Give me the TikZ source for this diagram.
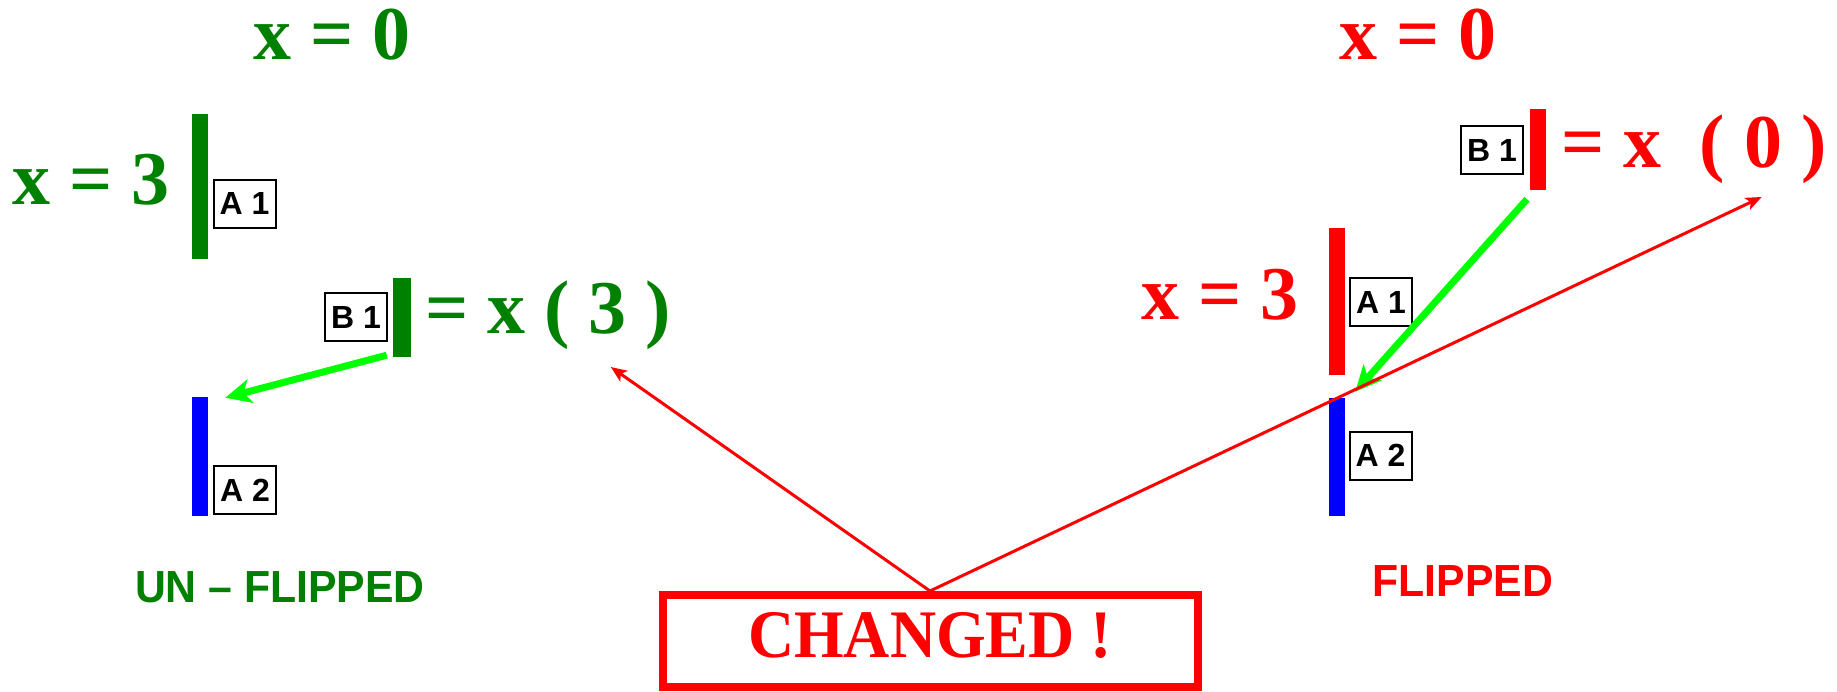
\documentclass[tikz,border=0pt]{standalone}
\usepackage{fontspec}
\setmainfont{Liberation Serif}
\setsansfont{Liberation Sans}
\newfontfamily\capfont[FakeStretch=0.95]{Liberation Sans}
\newfontfamily\chgfont[FakeStretch=0.94]{Liberation Serif}
\usetikzlibrary{arrows.meta}
\definecolor{dgreen}{RGB}{0,128,0}
\definecolor{lgreen}{RGB}{0,255,0}
\begin{document}
\begin{tikzpicture}[x=1pt,y=-1pt,
  big/.style={font=\fontsize{76}{76}\selectfont\bfseries, inner sep=0pt, anchor=base},
  lab/.style={draw=black, line width=2pt, font=\sffamily\bfseries\fontsize{32}{32}\selectfont, minimum width=62pt, minimum height=48pt, inner sep=0pt},
  bar/.style={inner sep=0pt, minimum width=16pt, draw=none},
  captext/.style={font=\capfont\bfseries\fontsize{45}{45}\selectfont, inner sep=0pt, anchor=base},
  garrow/.style={draw=lgreen, line width=7pt, -{Stealth[length=26pt,width=24pt,inset=7pt]}},
  rarrow/.style={draw=red, line width=3pt, -{Stealth[length=16pt,width=13pt,inset=4pt]}}]
\useasboundingbox (0,0) rectangle (1837,691);
% left (un-flipped)
\node[big, text=dgreen] (gx0) at (332,59) {x = 0};
\node[big, text=dgreen] (gx3) at (91,204) {x = 3};
\node[bar, fill=dgreen, minimum height=145pt] (gA1bar) at (200,186.5) {};
\node[lab] (gA1) at (244.5,203.5) {A 1};
\node[lab] (gB1) at (356,317) {B 1};
\node[bar, fill=dgreen, minimum width=18pt, minimum height=79pt] (gB1bar) at (402,317.5) {};
\node[big, text=dgreen] (geq) at (548,333) {= x ( 3 )};
\node[bar, fill=blue, minimum height=119pt] (gA2bar) at (200,456.5) {};
\node[lab] (gA2) at (245,490) {A 2};
\node[captext, text=dgreen] (unf) at (280,602) {UN – FLIPPED};
% right (flipped)
\node[big, text=red] (rx0) at (1418,59) {x = 0};
\node[lab] (rB1) at (1492,150) {B 1};
\node[bar, fill=red, minimum height=81pt] (rB1bar) at (1538,149.5) {};
\node[big, text=red] (req) at (1694,167) {= x\ \ ( 0 )};
\node[big, text=red] (rx3) at (1220,319) {x = 3};
\node[bar, fill=red, minimum height=147pt] (rA1bar) at (1337,301.5) {};
\node[lab] (rA1) at (1381,302) {A 1};
\node[bar, fill=blue, minimum height=118pt] (rA2bar) at (1337,457) {};
\node[lab] (rA2) at (1380.5,455.5) {A 2};
\node[captext, text=red] (flp) at (1463,596) {FLIPPED};
% changed box
\node[draw=red, line width=8pt, minimum width=535pt, minimum height=92pt, inner sep=0pt,
      text=red, font=\chgfont\fontsize{68}{68}\selectfont\bfseries, text depth=13pt] (chg) at (930,641) {CHANGED !};
% arrow end points
\coordinate (gs) at ([xshift=-6pt,yshift=2pt]gB1bar.south west);
\coordinate (ge) at ([xshift=17pt,yshift=-1pt]gA2bar.north east);
\coordinate (rs) at ([xshift=-11pt,yshift=-9pt]rB1bar.south);
\coordinate (re) at ([xshift=10pt,yshift=6pt]rA2bar.north east);
\coordinate (t1) at ([xshift=186pt,yshift=-34pt]geq.base west);
\coordinate (t2) at ([xshift=-65pt,yshift=-30pt]req.base east);
% connectors
\draw[garrow] (gs) -- (ge);
\draw[garrow] (rs) -- (re);
\draw[rarrow] (chg.north) -- (t1);
\draw[rarrow] (chg.north) -- (t2);
\end{tikzpicture}
\end{document}
